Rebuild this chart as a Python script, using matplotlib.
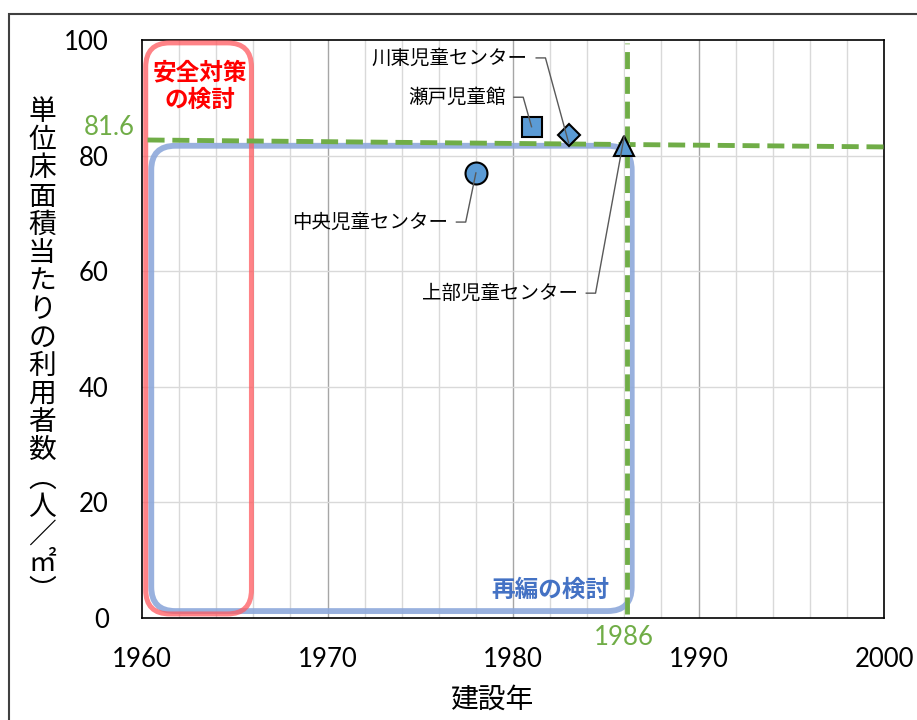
import matplotlib
matplotlib.use('Agg')
import matplotlib.pyplot as plt
from matplotlib.patches import FancyBboxPatch, Rectangle

#data
names = ['中央児童センター', '瀬戸児童館', '川東児童センター', '上部児童センター']
build_year = [1978, 1981, 1983, 1986]
users_per_m2 = [77.0, 85.0, 83.6, 81.6]
threshold_users = 81.6
threshold_year = 1986
x_ticks = [1960, 1970, 1980, 1990, 2000]
y_ticks = [0, 20, 40, 60, 80, 100]

#marker per facility and label anchor (right end of text) in data coords
markers = ['o', 's', 'D', '^']
marker_sizes = [15.8, 15, 10.7, 14.5]
label_pos = [(1976.5, 68.5), (1979.6, 90.1), (1980.8, 96.9), (1983.5, 56.2)]
label_target_dy = [0, 0, -1.4, 1.8]

JP = ['Noto Sans CJK JP']
plt.rcParams['font.family'] = ['Lato', 'Noto Sans CJK JP']

W, H = 917, 720
fig = plt.figure(figsize=(W / 100, H / 100), dpi=100)
fig.patch.set_facecolor('white')

#outer border of the excel chart area
fig.patches.append(Rectangle((9 / W, -0.05), 1.2, 1.05 - 14 / H, transform=fig.transFigure,
                             fill=False, edgecolor='#404040', linewidth=1.5))

L, R, T, B = 142, 884, 40, 618
ax = fig.add_axes([L / W, 1 - B / H, (R - L) / W, (B - T) / H])
ax.set_xlim(1960, 2000)
ax.set_ylim(0, 100)

#grid
for yr in range(1962, 2000, 2):
    c = '#A6A6A6' if yr % 10 == 0 else '#D9D9D9'
    ax.axvline(yr, color=c, linewidth=1, zorder=0)
for v in y_ticks[1:-1]:
    ax.axhline(v, color='#D9D9D9', linewidth=1, zorder=0)

ax.set_xticks(x_ticks)
ax.set_yticks(y_ticks)
ax.tick_params(length=0, labelsize=18.5, colors='black')
ax.tick_params(axis='y', pad=24)
ax.tick_params(axis='x', pad=21)
for s in ax.spines.values():
    s.set_color('black')
    s.set_linewidth(1.2)

#rounded boxes
asp = (100 / (B - T)) / (40 / (R - L))
blue_box = FancyBboxPatch((1960.5, 1.2), 25.9, 80.5, boxstyle='round,pad=0,rounding_size=1.3',
                          mutation_aspect=asp, fill=False, edgecolor='#8EA9DB', alpha=0.9,
                          linewidth=4.2, zorder=2, clip_on=False)
red_box = FancyBboxPatch((1960.2, 0.7), 5.7, 98.8, boxstyle='round,pad=0,rounding_size=1.3',
                         mutation_aspect=asp, fill=False, edgecolor='#FF5A5F', alpha=0.75,
                         linewidth=3.6, zorder=3, clip_on=False)
ax.add_patch(blue_box)
ax.add_patch(red_box)

#threshold lines
dash = (0, (3.5, 1.6))
ax.plot([1960.3, 2000], [82.7, 81.5], color='#70AD47', linewidth=3.5, linestyle=dash,
        zorder=4, clip_on=False)
ax.plot([1986.15, 1986.15], [0.7, 99.5], color='white', linewidth=3.5, zorder=4)
ax.plot([1986.15, 1986.15], [0.7, 99.5], color='#70AD47', linewidth=3.5, linestyle=dash, zorder=4)

#leader lines and labels
for i in range(len(names)):
    tx, ty = label_pos[i]
    px, py = build_year[i], users_per_m2[i] + label_target_dy[i]
    ax.plot([tx + 0.45, tx + 0.95, px], [ty, ty, py], color='#595959', linewidth=1, zorder=7)
    ax.text(tx, ty, names[i], ha='right', va='center', fontsize=14, family=JP, zorder=8)

#points
for i in range(len(names)):
    ax.plot(build_year[i], users_per_m2[i], marker=markers[i], markersize=marker_sizes[i],
            markerfacecolor='#5B9BD5', markeredgecolor='black', markeredgewidth=1.5,
            linestyle='none', zorder=6, clip_on=False)

#annotation texts
ax.text(1963.1, 92.0, '安全対策\nの検討', ha='center', va='center', fontsize=17,
        fontweight='bold', color='#FF0000', family=JP, linespacing=1.22, zorder=9)
ax.text(1982.0, 4.8, '再編の検討', ha='center', va='center', fontsize=17,
        fontweight='bold', color='#4472C4', family=JP, zorder=9)
ax.text(1959.6, 84.8, f'{threshold_users}', ha='right', va='center', fontsize=18.5,
        color='#70AD47', clip_on=False)
ax.text(threshold_year, -3.3, f'{threshold_year}', ha='center', va='center', fontsize=18.5,
        color='#70AD47', clip_on=False)

#axis titles
fig.text(492 / W, 1 - 700 / H, '建設年', ha='center', va='center', fontsize=20, family=JP)
ylab = list('単位床面積当たりの利用者数') + ['\uFE35', '人', '／', '㎡', '\uFE36']
for i, ch in enumerate(ylab):
    fig.text(42 / W, 1 - (112 + i * 28.2) / H, ch, ha='center', va='center', fontsize=20, family=JP)

fig.savefig('out.png', dpi=100)
